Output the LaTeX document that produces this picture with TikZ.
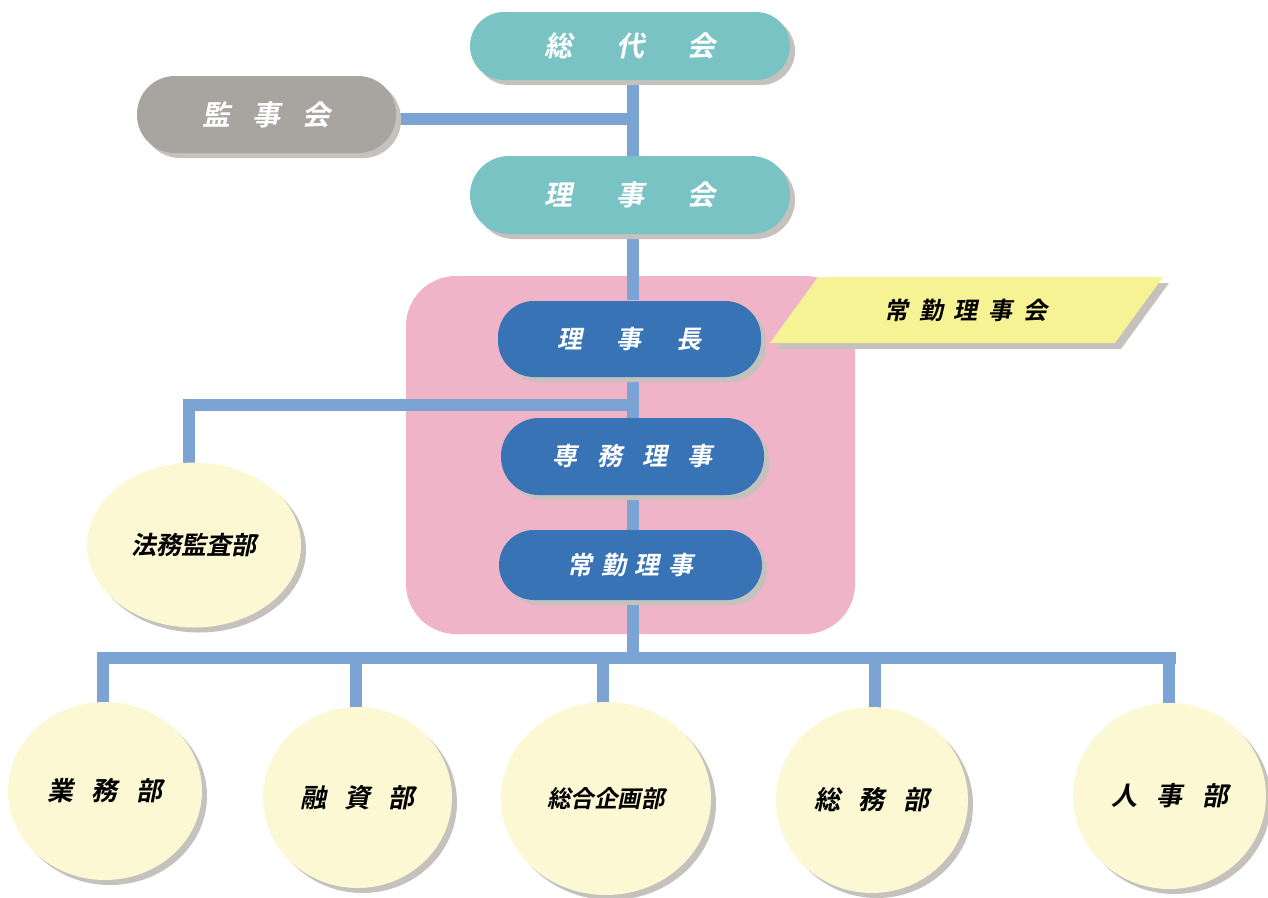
\documentclass[tikz,border=0pt]{standalone}
\usepackage{fontspec}
\newfontfamily\jp{Noto Sans CJK JP}[UprightFont=* Bold, FakeSlant=0.2]
\usetikzlibrary{shapes.geometric,shadows}
\definecolor{teal1}{HTML}{7AC3C5}
\definecolor{gray1}{HTML}{A8A5A1}
\definecolor{blue1}{HTML}{3773B5}
\definecolor{pink1}{HTML}{EFB4C8}
\definecolor{yel1}{HTML}{F6F394}
\definecolor{ell1}{HTML}{FCF8D4}
\definecolor{conn1}{HTML}{7BA3D3}
\definecolor{shad1}{HTML}{C5C1BD}
\tikzset{
  shad/.style={general shadow={shadow xshift=5pt, shadow yshift=-5pt, fill=shad1}},
  pill/.style={shad, rectangle, rounded corners=#1, inner sep=0pt, font=\jp, text=white},
  topbox/.style={pill=34pt, fill=teal1, minimum width=320pt, minimum height=68pt, font=\jp\fontsize{28}{28}\selectfont},
  kanbox/.style={pill=38pt, fill=gray1, minimum width=259pt, minimum height=77pt, font=\jp\fontsize{28}{28}\selectfont},
  bluebox/.style={pill=36pt, fill=blue1, minimum width=263pt, minimum height=76pt, font=\jp\fontsize{25}{25}\selectfont},
  dept/.style={shad, ellipse, fill=ell1, inner sep=0pt, font=\jp\fontsize{26}{26}\selectfont, text=black},
  conn/.style={draw=conn1, line width=12pt},
}
\begin{document}
\begin{tikzpicture}[x=1pt,y=-1pt]
\useasboundingbox (0,0) rectangle (1268,897);
% group background
\node[fill=pink1, rounded corners=50pt, minimum width=449pt, minimum height=358pt, inner sep=0pt] (grp) at (630.5,455) {};
% parallelogram
\coordinate (p1) at (818,277);
\coordinate (p2) at (1163,277);
\coordinate (p3) at (1115,343);
\coordinate (p4) at (770,343);
\fill[shad1] ([xshift=6pt,yshift=-6pt]p1) -- ([xshift=6pt,yshift=-6pt]p2) -- ([xshift=6pt,yshift=-6pt]p3) -- ([xshift=6pt,yshift=-6pt]p4) -- cycle;
\fill[yel1] (p1) -- (p2) -- (p3) -- (p4) -- cycle;
\node[font=\jp\fontsize{24}{24}\selectfont] (jokai) at (966,310) {常\hspace{0.45em}勤\hspace{0.45em}理\hspace{0.45em}事\hspace{0.45em}会};
% junction coordinates
\coordinate (j1) at (633,119);
\coordinate (j2) at (633,405);
\coordinate (j2l) at (183,405);
\coordinate (j3) at (633,658);
\coordinate (busL) at (97,658);
\coordinate (busR) at (1176,658);
% connectors
\draw[conn] (633,70) coordinate (a1) -- (633,300) coordinate (a2);
\draw[conn] (396,119) coordinate (k1) -- (j1);
\draw[conn] (633,370) coordinate (a3) -- (633,540) coordinate (a4);
\draw[conn] (j2) -- (j2l);
\draw[conn] (189,399) coordinate (h1) -- (189,465) coordinate (h2);
\draw[conn] (633,590) coordinate (a5) -- (j3);
\draw[conn] (busL) -- (busR);
\draw[conn] (103,652) coordinate (d1) -- (103,710) coordinate (d1e);
\draw[conn] (356,652) coordinate (d2) -- (356,710) coordinate (d2e);
\draw[conn] (603,652) coordinate (d3) -- (603,710) coordinate (d3e);
\draw[conn] (875,652) coordinate (d4) -- (875,710) coordinate (d4e);
\draw[conn] (1169,652) coordinate (d5) -- (1169,710) coordinate (d5e);
% boxes
\node[topbox] (sodai) at (630,46) {総\hspace{1.55em}代\hspace{1.55em}会};
\node[kanbox] (kanji) at (266.5,114.5) {監\hspace{0.8em}事\hspace{0.8em}会};
\node[topbox, minimum height=78pt, rounded corners=39pt] (rijikai) at (630,195) {理\hspace{1.55em}事\hspace{1.55em}会};
\node[bluebox] (richo) at (629.5,339) {理\hspace{1.4em}事\hspace{1.4em}長};
\node[bluebox, minimum height=77pt, rounded corners=38pt] (senmu) at (632.5,456.5) {専\hspace{0.8em}務\hspace{0.8em}理\hspace{0.8em}事};
\node[bluebox, minimum height=70pt, rounded corners=35pt] (jokin) at (630.5,565) {常\hspace{0.35em}勤\hspace{0.35em}理\hspace{0.35em}事};
% departments
\node[dept, minimum width=214pt, minimum height=165pt, font=\jp\fontsize{25}{25}\selectfont] (homu) at (194,545) {法務監査部};
\node[dept, minimum width=194pt, minimum height=178pt] (gyomu) at (105,791) {業\hspace{0.7em}務\hspace{0.7em}部};
\node[dept, minimum width=189pt, minimum height=181pt] (yushi) at (357.5,797.5) {融\hspace{0.7em}資\hspace{0.7em}部};
\node[dept, minimum width=210pt, minimum height=193pt, font=\jp\fontsize{23.5}{23.5}\selectfont] (kikaku) at (606,798.5) {総合企画部};
\node[dept, minimum width=192pt, minimum height=186pt] (somu) at (872,800) {総\hspace{0.7em}務\hspace{0.7em}部};
\node[dept, minimum width=193pt, minimum height=186pt] (jinji) at (1169.5,796) {人\hspace{0.75em}事\hspace{0.75em}部};
\end{tikzpicture}
\end{document}
